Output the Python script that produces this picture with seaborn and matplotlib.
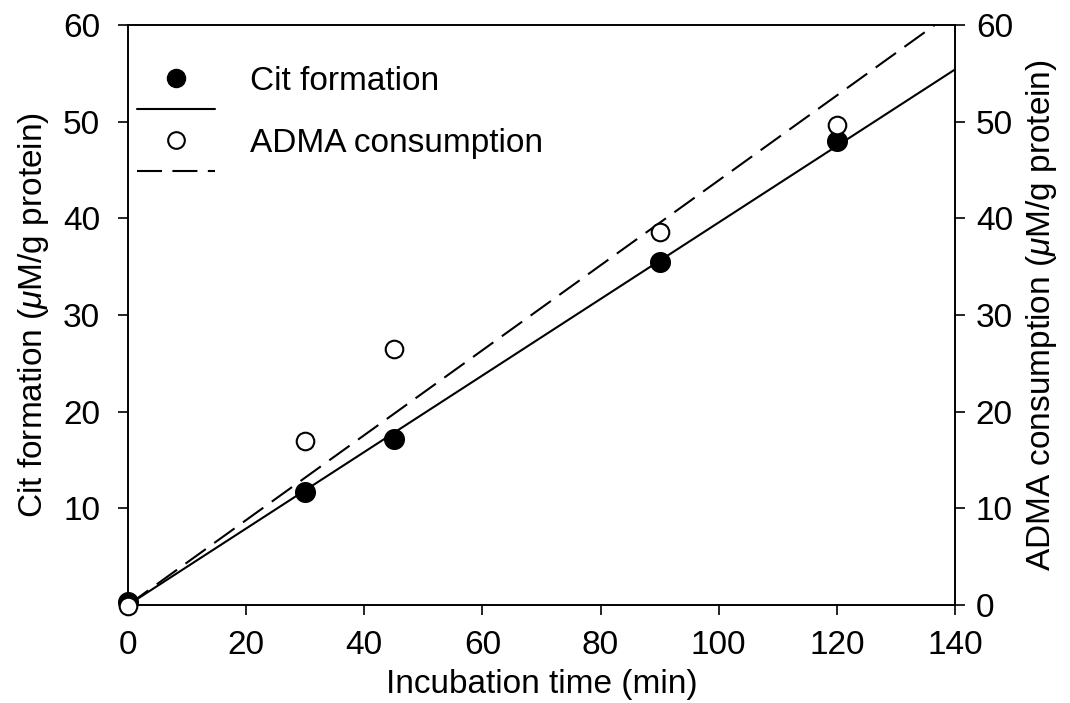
import numpy as np
import pandas as pd
import matplotlib
matplotlib.use("Agg")
import matplotlib.pyplot as plt
import seaborn as sns
from matplotlib.lines import Line2D

# data
time_min = [0, 30, 45, 90, 120]
cit_formation = [0.3, 11.7, 17.2, 35.5, 48.0]
adma_consumption = [-0.1, 17.0, 26.5, 38.6, 49.7]

# regression lines (through origin), end points at x = 140
fit_x = [0, 140]
cit_fit = [0, 55.4]
adma_fit = [0, 61.5]

xticks = [0, 20, 40, 60, 80, 100, 120, 140]
left_yticks = [10, 20, 30, 40, 50, 60]
right_yticks = [0, 10, 20, 30, 40, 50, 60]

sns.set_style("ticks")
plt.rcParams["font.family"] = ["Liberation Sans", "DejaVu Sans"]
plt.rcParams["mathtext.fontset"] = "custom"
plt.rcParams["mathtext.it"] = "Liberation Sans:italic"
plt.rcParams["mathtext.rm"] = "Liberation Sans"
plt.rcParams["text.color"] = "black"
plt.rcParams["axes.labelcolor"] = "black"

fs = 24
fig = plt.figure(figsize=(10.7, 7.03), dpi=100)
ax = fig.add_axes([0.1196, 0.1394, 0.7729, 0.825])
ax2 = ax.twinx()

pts = pd.DataFrame({"t": time_min, "cit": cit_formation, "adma": adma_consumption})
fits = pd.DataFrame({"t": fit_x, "cit": cit_fit, "adma": adma_fit})

sns.lineplot(data=fits, x="t", y="cit", ax=ax, color="black", lw=1.5)
sns.lineplot(data=fits, x="t", y="adma", ax=ax2, color="black", lw=1.5,
             dashes=False)
ax2.lines[-1].set_dashes((12, 5))

sns.scatterplot(data=pts, x="t", y="cit", ax=ax, color="black", s=200,
                edgecolor="black", linewidth=1, clip_on=False, zorder=5)
sns.scatterplot(data=pts, x="t", y="adma", ax=ax2, color="white", s=160,
                edgecolor="black", linewidth=1.5, clip_on=False, zorder=5)

for a in (ax, ax2):
    a.set_xlim(0, 140)
    a.set_ylim(0, 60)
    for sp in a.spines.values():
        sp.set_linewidth(1.2)
        sp.set_color("black")
    a.tick_params(labelsize=fs, width=1.2, length=7, direction="out",
                  colors="black")

ax.set_xticks(xticks)
ax.set_yticks(left_yticks)
ax2.set_yticks(right_yticks)
ax.tick_params(axis="x", pad=11)
ax.tick_params(axis="y", pad=13)
ax2.tick_params(axis="y", pad=8)

ax.set_xlabel("Incubation time (min)", fontsize=fs, labelpad=6)
ax.set_ylabel(r"Cit formation ($\mu$M/g protein)", fontsize=fs, labelpad=9)
ax2.set_ylabel(r"ADMA consumption ($\mu$M/g protein)", fontsize=fs,
               labelpad=8)

handles = [
    Line2D([], [], ls="none", marker="o", ms=13, mfc="black", mec="black"),
    Line2D([], [], color="black", lw=1.5),
    Line2D([], [], ls="none", marker="o", ms=12, mfc="white", mec="black",
           mew=1.5),
    Line2D([], [], color="black", lw=1.5, dashes=(12, 5)),
]
labels = ["Cit formation", "", "ADMA consumption", ""]
ax2.legend(handles, labels, loc="upper left", bbox_to_anchor=(0.011, 0.93),
           frameon=False, fontsize=fs, handlelength=2.34, handletextpad=1.05,
           labelspacing=0.0, borderpad=0, borderaxespad=0)

fig.savefig("out.png", dpi=100)
